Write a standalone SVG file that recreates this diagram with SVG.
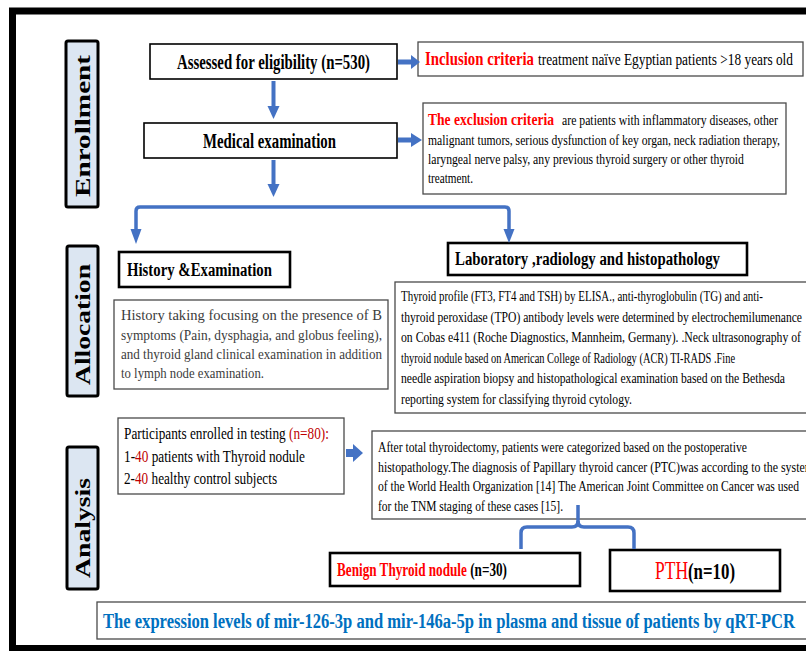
<svg xmlns="http://www.w3.org/2000/svg" width="806" height="651" viewBox="0 0 806 651">
<defs>
<style>
.t{font-family:"Liberation Serif","Times New Roman",serif;}
.b{font-family:"Liberation Serif","Times New Roman",serif;font-weight:bold;}
.box{fill:#fff;stroke:#000;stroke-width:1.6;}
.thick{fill:#fff;stroke:#000;stroke-width:2.6;}
.thin{fill:#fff;stroke:#4a4a4a;stroke-width:1.3;}
.side{fill:#dce6f2;stroke:#000;stroke-width:3;}
.red{fill:#ff0000;}
.dred{fill:#c00000;}
.ar{fill:#4472c4;}
.ln{fill:none;stroke:#4472c4;stroke-width:3.5;stroke-linejoin:round;}
</style>
</defs>
<rect x="0" y="0" width="806" height="651" fill="#fff"/>
<!-- outer frame -->
<rect x="12.5" y="11" width="820" height="637.5" fill="none" stroke="#000" stroke-width="7"/>

<!-- side labels -->
<g id="lbl-enrollment">
<rect class="side" x="66" y="41" width="32" height="166" rx="2"/>
<text class="b" font-size="29" text-anchor="middle" transform="translate(90,126) scale(0.74,1) rotate(-90)" textLength="142" lengthAdjust="spacingAndGlyphs">Enrollment</text>
</g>
<g id="lbl-allocation">
<rect class="side" x="67" y="246" width="31" height="150" rx="2"/>
<text class="b" font-size="29" text-anchor="middle" transform="translate(90,324.5) scale(0.74,1) rotate(-90)" textLength="121" lengthAdjust="spacingAndGlyphs">Allocation</text>
</g>
<g id="lbl-analysis">
<rect class="side" x="67" y="447" width="31" height="142" rx="2"/>
<text class="b" font-size="29" text-anchor="middle" transform="translate(90,528) scale(0.74,1) rotate(-90)" textLength="100" lengthAdjust="spacingAndGlyphs">Analysis</text>
</g>

<!-- nodes -->
<g id="assessed">
<rect class="box" x="150" y="44" width="247" height="35"/>
<text class="b" font-size="21" transform="translate(177,69) scale(0.74,1)" textLength="260.8" lengthAdjust="spacingAndGlyphs">Assessed for eligibility (n=530)</text>
</g>
<g id="inclusion">
<rect class="thin" x="418" y="42" width="385" height="34"/>
<text class="b red" font-size="18" transform="translate(425,65) scale(0.74,1)" textLength="147.3" lengthAdjust="spacingAndGlyphs">Inclusion criteria</text>
<text class="t" font-size="16.5" transform="translate(538,65) scale(0.74,1)" textLength="344.6" lengthAdjust="spacingAndGlyphs">treatment naïve Egyptian patients &gt;18 years old</text>
</g>
<g id="medical">
<rect class="box" x="144" y="123" width="253" height="35"/>
<text class="b" font-size="20" transform="translate(203,148) scale(0.74,1)" textLength="179.7" lengthAdjust="spacingAndGlyphs">Medical examination</text>
</g>
<g id="exclusion">
<rect class="thin" x="423" y="103" width="363" height="91"/>
<text class="b red" font-size="16" transform="translate(428,125) scale(0.74,1)" textLength="170.3" lengthAdjust="spacingAndGlyphs">The  exclusion criteria</text>
<text class="t" font-size="15" transform="translate(562,125) scale(0.74,1)" textLength="291.9" lengthAdjust="spacingAndGlyphs">are  patients with inflammatory diseases, other</text>
<text class="t" font-size="15" transform="translate(428,145) scale(0.74,1)" textLength="475.7" lengthAdjust="spacingAndGlyphs">malignant tumors, serious dysfunction of key organ, neck radiation therapy,</text>
<text class="t" font-size="15" transform="translate(428,164) scale(0.74,1)" textLength="427" lengthAdjust="spacingAndGlyphs">laryngeal nerve palsy, any previous thyroid surgery or other  thyroid</text>
<text class="t" font-size="15" transform="translate(428,183) scale(0.74,1)" textLength="60.8" lengthAdjust="spacingAndGlyphs">treatment.</text>
</g>
<g id="history-head">
<rect class="thick" x="119" y="252" width="171" height="35"/>
<text class="b" font-size="19" transform="translate(127,276) scale(0.74,1)" textLength="195.9" lengthAdjust="spacingAndGlyphs">History &amp;Examination</text>
</g>
<g id="history-body" fill="#3c3c3c">
<rect class="thin" x="114" y="300" width="274" height="89"/>
<text class="t" font-size="15" transform="translate(121,320) scale(0.74,1)" textLength="352.7" lengthAdjust="spacingAndGlyphs">History taking focusing on the presence of B</text>
<text class="t" font-size="15" transform="translate(121,340) scale(0.74,1)" textLength="352.7" lengthAdjust="spacingAndGlyphs">symptoms (Pain, dysphagia, and globus feeling),</text>
<text class="t" font-size="15" transform="translate(121,359) scale(0.74,1)" textLength="352.7" lengthAdjust="spacingAndGlyphs">and  thyroid gland clinical examination in addition</text>
<text class="t" font-size="15" transform="translate(121,378) scale(0.74,1)" textLength="193.2" lengthAdjust="spacingAndGlyphs">to lymph node examination.</text>
</g>
<g id="lab-head">
<rect class="thick" x="448" y="243" width="299" height="32"/>
<text class="b" font-size="19" transform="translate(455,265) scale(0.74,1)" textLength="358.1" lengthAdjust="spacingAndGlyphs">Laboratory ,radiology and histopathology</text>
</g>
<g id="lab-body">
<rect class="thin" x="395" y="282" width="420" height="131"/>
<text class="t" font-size="15.5" transform="translate(401,301) scale(0.74,1)" textLength="489.2" lengthAdjust="spacingAndGlyphs">Thyroid profile (FT3, FT4 and TSH) by ELISA., anti-thyroglobulin (TG) and anti-</text>
<text class="t" font-size="15.5" transform="translate(401,322) scale(0.74,1)" textLength="541.9" lengthAdjust="spacingAndGlyphs">thyroid peroxidase (TPO) antibody levels were determined by electrochemilumenance</text>
<text class="t" font-size="15.5" transform="translate(401,342) scale(0.74,1)" textLength="540.5" lengthAdjust="spacingAndGlyphs">on Cobas e411  (Roche Diagnostics, Mannheim, Germany). .Neck ultrasonography of</text>
<text class="t" font-size="15.5" transform="translate(401,363) scale(0.74,1)" textLength="451.4" lengthAdjust="spacingAndGlyphs">thyroid nodule based on American College of Radiology (ACR) TI-RADS .Fine</text>
<text class="t" font-size="15.5" transform="translate(401,383) scale(0.74,1)" textLength="518.9" lengthAdjust="spacingAndGlyphs">needle aspiration biopsy and histopathological examination based on the Bethesda</text>
<text class="t" font-size="15.5" transform="translate(401,404) scale(0.74,1)" textLength="312.2" lengthAdjust="spacingAndGlyphs">reporting system for classifying thyroid cytology.</text>
</g>
<g id="participants">
<rect class="thin" x="118" y="418" width="226" height="76"/>
<text class="t" font-size="17" transform="translate(124,439) scale(0.74,1)" textLength="277" lengthAdjust="spacingAndGlyphs">Participants enrolled in testing <tspan class="dred">(n=80):</tspan></text>
<text class="t" font-size="17" transform="translate(124,462) scale(0.74,1)" textLength="244.6" lengthAdjust="spacingAndGlyphs">1-<tspan class="dred">40</tspan> patients with Thyroid nodule</text>
<text class="t" font-size="17" transform="translate(124,484) scale(0.74,1)" textLength="206.8" lengthAdjust="spacingAndGlyphs">2-<tspan class="dred">40</tspan> healthy control subjects</text>
</g>
<g id="after">
<rect class="thin" x="372" y="431" width="445" height="88"/>
<text class="t" font-size="15" transform="translate(378,452) scale(0.74,1)" textLength="498.6" lengthAdjust="spacingAndGlyphs">After total thyroidectomy, patients were categorized based on the postoperative</text>
<text class="t" font-size="15" transform="translate(378,472) scale(0.74,1)" textLength="589.2" lengthAdjust="spacingAndGlyphs">histopathology.The diagnosis of  Papillary thyroid cancer (PTC)was according to the system</text>
<text class="t" font-size="15" transform="translate(378,491) scale(0.74,1)" textLength="568.9" lengthAdjust="spacingAndGlyphs">of the World Health Organization [14] The American Joint Committee on Cancer was used</text>
<text class="t" font-size="15" transform="translate(378,511) scale(0.74,1)" textLength="250" lengthAdjust="spacingAndGlyphs">for the TNM staging of these cases [15].</text>
</g>
<g id="benign">
<rect class="thick" x="330" y="553" width="250" height="33"/>
<text class="b" font-size="18" transform="translate(337,576) scale(0.74,1)" textLength="229.7" lengthAdjust="spacingAndGlyphs"><tspan class="red">Benign Thyroid nodule</tspan> (n=30)</text>
</g>
<g id="pth">
<rect class="thick" x="610" y="550" width="170" height="41" stroke-width="3"/>
<text class="t red" font-size="26" transform="translate(655,579) scale(0.74,1)" textLength="44.6" lengthAdjust="spacingAndGlyphs">PTH</text>
<text class="b" font-size="24" transform="translate(688,579) scale(0.74,1)" textLength="63.5" lengthAdjust="spacingAndGlyphs">(n=10)</text>
</g>
<g id="expression">
<rect class="thin" x="97" y="602" width="720" height="37"/>
<text class="b" font-size="22" fill="#0070c0" transform="translate(103,628) scale(0.74,1)" textLength="935.1" lengthAdjust="spacingAndGlyphs">The expression levels of mir-126-3p and mir-146a-5p in plasma and tissue of patients by qRT-PCR</text>
</g>

<!-- connectors -->
<g id="connectors">
<!-- assessed -> inclusion -->
<rect class="ar" x="398" y="59.5" width="14" height="5"/>
<polygon class="ar" points="411,55 420,62 411,69"/>
<!-- medical -> exclusion -->
<rect class="ar" x="398" y="137.5" width="14" height="5"/>
<polygon class="ar" points="411,133 422,140 411,147"/>
<!-- assessed -> medical -->
<rect class="ar" x="271.5" y="81" width="4" height="26"/>
<polygon class="ar" points="267.5,106 279.5,106 273.5,119"/>
<!-- medical -> branch -->
<rect class="ar" x="271.5" y="160" width="4" height="25"/>
<polygon class="ar" points="267.5,184 279.5,184 273.5,197"/>
<!-- branch -->
<path class="ln" d="M136,231 V211 Q136,207 140,207 H505 Q509,207 509,211 V231"/>
<polygon class="ar" points="130.5,229 141.5,229 136,244"/>
<polygon class="ar" points="503.5,229 514.5,229 509,243"/>
<!-- participants -> after -->
<rect class="ar" x="346" y="449" width="8" height="8"/>
<polygon class="ar" points="353,444 363,453 353,462"/>
<!-- after -> benign / pth bracket -->
<path class="ln" stroke-width="4" d="M578,505 V521 Q578,527 572,527 H527 Q521,527 521,533 V549"/>
<path class="ln" stroke-width="4" d="M578,521 Q578,527 584,527 H628 Q634,527 634,533 V549"/>
</g>
</svg>
